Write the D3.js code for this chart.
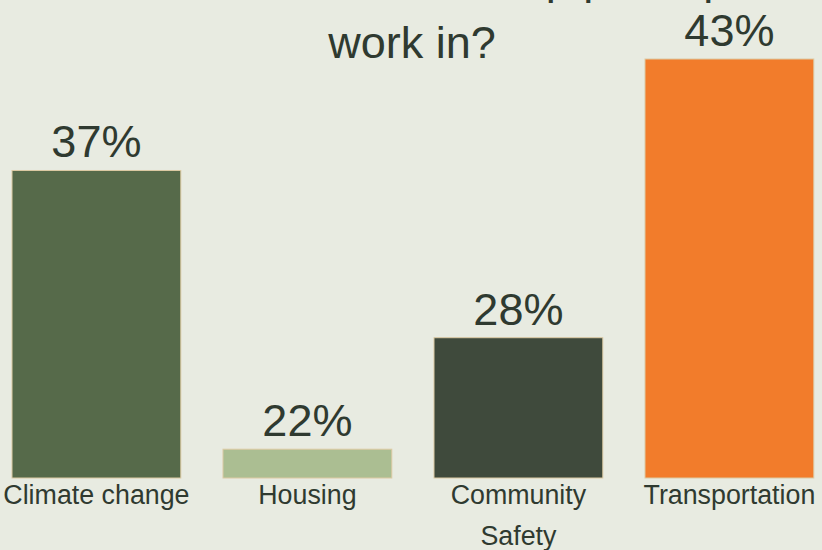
<!DOCTYPE html>
<html>
<head>
<meta charset="utf-8">
<script src="https://cdn.jsdelivr.net/npm/d3@7/dist/d3.min.js"></script>
<style>
  html, body { margin: 0; padding: 0; background: #e8ebe1; }
  svg { display: block; }
  text { font-family: "Liberation Sans", Arial, sans-serif; fill: #2f3a30; }
</style>
</head>
<body>
<svg id="chart" width="822" height="550"></svg>
<script>
// ---- data ----
const categories = ["Climate change", "Housing", "Community Safety", "Transportation"];
const values = [37, 22, 28, 43];
const barColors = ["#566a4a", "#abbe92", "#3f4a3c", "#f27c2b"];
const valueLabels = ["37%", "22%", "28%", "43%"];
const titleLines = ["What issue area do I help participate/", "work in?"];

// ---- layout ----
const W = 822, H = 550;
const svg = d3.select("#chart");
svg.append("rect").attr("width", W).attr("height", H).attr("fill", "#e8ebe1");

const x = d3.scaleBand()
  .domain(categories)
  .range([-9.1, 834.9])
  .paddingInner(0.2)
  .paddingOuter(0.1);

const y = d3.scaleLinear()
  .domain([20.45, 43])
  .range([478, 59]);

const data = categories.map((c, i) => ({ c, v: values[i], color: barColors[i], label: valueLabels[i] }));

// bars
svg.append("g").selectAll("rect")
  .data(data)
  .join("rect")
  .attr("x", d => x(d.c))
  .attr("y", d => y(d.v))
  .attr("width", x.bandwidth())
  .attr("height", d => y.range()[0] - y(d.v))
  .attr("fill", d => d.color)
  .attr("stroke", "#dccaa3")
  .attr("stroke-width", 1);

// value labels
svg.append("g").selectAll("text")
  .data(data)
  .join("text")
  .attr("x", d => x(d.c) + x.bandwidth() / 2)
  .attr("y", d => y(d.v) - 13)
  .attr("text-anchor", "middle")
  .attr("font-size", 45)
  .text(d => d.label);

// x axis
const axis = svg.append("g")
  .attr("transform", `translate(0,${y.range()[0]})`)
  .call(d3.axisBottom(x).tickSize(0).tickPadding(0));
axis.select(".domain").remove();
axis.selectAll("text")
  .attr("font-size", 26.8)
  .attr("fill", "#2f3a30")
  .style("font-family", '"Liberation Sans", Arial, sans-serif')
  .call(wrap, x.step());

function wrap(sel, width) {
  sel.each(function () {
    const t = d3.select(this);
    const words = t.text().split(/\s+/);
    t.text(null).attr("y", 26).attr("dy", null);
    let line = [];
    let tspan = t.append("tspan").attr("x", 0).attr("y", 26);
    let lineNo = 0;
    words.forEach(w => {
      line.push(w);
      tspan.text(line.join(" "));
      if (tspan.node().getComputedTextLength() > width && line.length > 1) {
        line.pop();
        tspan.text(line.join(" "));
        line = [w];
        lineNo++;
        tspan = t.append("tspan").attr("x", 0).attr("y", 26 + lineNo * 41).text(w);
      }
    });
  });
}

// title
const title = svg.append("text")
  .attr("text-anchor", "middle")
  .attr("font-size", 45);
titleLines.forEach((l, i) => {
  title.append("tspan").attr("x", i === 0 ? 432 : 412).attr("y", -6 + i * 64).text(l);
});
</script>
</body>
</html>
